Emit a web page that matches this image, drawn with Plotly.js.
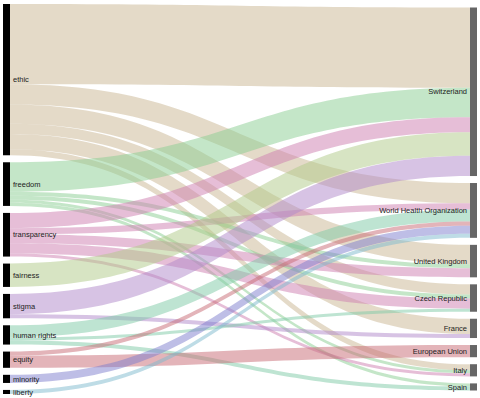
<!DOCTYPE html>
<html>
<head>
<meta charset="utf-8">
<script src="https://cdn.plot.ly/plotly-3.0.1.min.js"></script>
<style>html,body{margin:0;padding:0;background:#fff;}#chart{width:480px;height:398px;}</style>
</head>
<body>
<div id="chart"></div>
<script>
// Left (topics) and right (countries / organisations) node labels
const topics = ["ethic", "freedom", "transparency", "fairness", "stigma", "human rights", "equity", "minority", "liberty"];
const places = ["Switzerland", "World Health Organization", "United Kingdom", "Czech Republic", "France", "European Union", "Italy", "Spain"];

// Links: source topic, target place, value
const linkSource = ["ethic","ethic","ethic","ethic","ethic","ethic",
                    "freedom","freedom","freedom","freedom","freedom",
                    "transparency","transparency","transparency","transparency","transparency",
                    "fairness",
                    "stigma","stigma",
                    "human rights","human rights","human rights",
                    "equity","equity",
                    "minority",
                    "liberty"];
const linkTarget = ["Switzerland","World Health Organization","United Kingdom","Czech Republic","France","Italy",
                    "Switzerland","United Kingdom","Czech Republic","Italy","Spain",
                    "Switzerland","World Health Organization","United Kingdom","Czech Republic","Italy",
                    "Switzerland",
                    "Switzerland","France",
                    "World Health Organization","Czech Republic","Spain",
                    "World Health Organization","European Union",
                    "World Health Organization",
                    "World Health Organization"];
const linkValue  = [79, 20, 19, 10, 15, 6,
                    29, 4, 4, 3, 3,
                    15, 6, 9, 10, 3,
                    23,
                    20, 4,
                    12, 3, 4,
                    4, 12,
                    8,
                    4];

// Colours per topic (link colour follows its source)
const topicColors = ["rgba(201,181,145,0.5)","rgba(137,205,145,0.5)","rgba(205,125,175,0.5)",
                     "rgba(175,201,135,0.5)","rgba(175,135,201,0.5)","rgba(125,201,165,0.5)",
                     "rgba(200,105,115,0.5)","rgba(125,125,205,0.5)","rgba(125,185,205,0.5)"];

const W = 480, H = 398;
const margin = {l: 3, r: 3, t: 4, b: 4};
const thickness = 7, pad = 7;
const plotW = W - margin.l - margin.r, plotH = H - margin.t - margin.b;

const labels = topics.concat(places);
const nodeColors = topics.map(() => "#000000").concat(places.map(() => "#666666"));
const src = linkSource.map(s => labels.indexOf(s));
const tgt = linkTarget.map(t => labels.indexOf(t));
const lcol = linkSource.map(s => topicColors[topics.indexOf(s)]);

// node totals (for keeping the listed vertical order)
const totals = labels.map((lab, i) => {
  let s = 0;
  linkValue.forEach((v, k) => { if (src[k] === i || tgt[k] === i) s += v; });
  return s;
});
const sumAll = linkValue.reduce((a, b) => a + b, 0);
const ky = Math.min((plotH - (topics.length - 1) * pad) / sumAll,
                    (plotH - (places.length - 1) * pad) / sumAll);
function columnCenters(names, offsetIdx) {
  const colH = sumAll * ky + (names.length - 1) * pad;
  let y = (plotH - colH) / 2;
  return names.map((n, i) => {
    const h = totals[offsetIdx + i] * ky;
    const c = y + h / 2;
    y += h + pad;
    return c / plotH;
  });
}
const nodeY = columnCenters(topics, 0).concat(columnCenters(places, topics.length));
const xl = (thickness / 2) / plotW, xr = 1 - xl;
const nodeX = topics.map(() => xl).concat(places.map(() => xr));

const data = [{
  type: "sankey",
  arrangement: "fixed",
  node: {
    label: labels,
    color: nodeColors,
    x: nodeX,
    y: nodeY,
    thickness: thickness,
    pad: pad,
    line: {width: 0},
    hoverinfo: "none"
  },
  link: {
    source: src,
    target: tgt,
    value: linkValue,
    color: lcol,
    hoverinfo: "none"
  },
  textfont: {family: "Liberation Sans, Arial, sans-serif", size: 7.5, color: "#222", shadow: "none"}
}];

const layout = {
  width: W, height: H,
  margin: margin,
  paper_bgcolor: "#fff",
  font: {family: "Liberation Sans, Arial, sans-serif"}
};

Plotly.newPlot("chart", data, layout, {displayModeBar: false, staticPlot: true});
</script>
</body>
</html>
